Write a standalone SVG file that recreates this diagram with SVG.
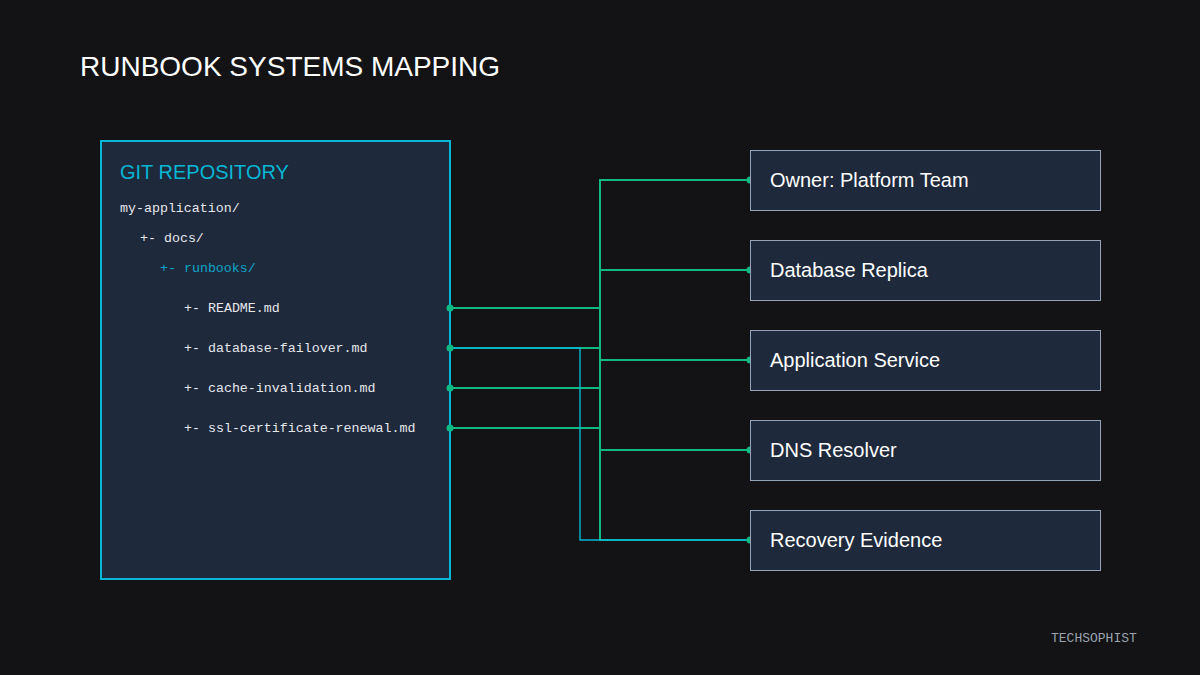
<svg xmlns="http://www.w3.org/2000/svg" width="1200" height="675" viewBox="0 0 1200 675">
  <style>
    .title { font-family: "Liberation Sans", Arial, sans-serif; font-size: 28px; fill: #ffffff; }
    .repo-title { font-family: "Liberation Sans", Arial, sans-serif; font-size: 20px; fill: #06b6d4; }
    .mono { font-family: "Liberation Mono", "Courier New", monospace; font-size: 13.3px; fill: #e5e7eb; }
    .mono-accent { fill: #0ea5c9; }
    .node-box { fill: #1e293b; stroke: #94a3b8; stroke-width: 1; }
    .node-label { font-family: "Liberation Sans", Arial, sans-serif; font-size: 20px; fill: #ffffff; }
    .conn { fill: none; stroke: #10b981; stroke-width: 2; }
    .conn-blue { fill: none; stroke: #06b6d4; stroke-width: 1.4; }
    .dot { fill: #10b981; }
    .brand { font-family: "Liberation Mono", "Courier New", monospace; font-size: 13px; fill: #9ca3af; }
  </style>
  <rect width="1200" height="675" fill="#131315"/>
  <text class="title" x="80" y="76">RUNBOOK SYSTEMS MAPPING</text>

  <g id="git-repository">
    <rect x="101" y="141" width="349" height="438" fill="#1e293b" stroke="#06b6d4" stroke-width="2"/>
    <text class="repo-title" x="120" y="179">GIT REPOSITORY</text>
    <text class="mono" x="120" y="212">my-application/</text>
    <text class="mono" x="140" y="242">+- docs/</text>
    <text class="mono mono-accent" x="160" y="272">+- runbooks/</text>
    <text class="mono" x="184" y="312">+- README.md</text>
    <text class="mono" x="184" y="352">+- database-failover.md</text>
    <text class="mono" x="184" y="392">+- cache-invalidation.md</text>
    <text class="mono" x="184" y="432">+- ssl-certificate-renewal.md</text>
  </g>

  <g id="connectors">
    <path class="conn" d="M450,308 H600 V180 H750"/>
    <path class="conn" d="M450,308 H600 V270 H750"/>
    <path class="conn" d="M450,348 H600 V270 H750"/>
    <path class="conn" d="M450,348 H600 V360 H750"/>
    <path class="conn" d="M450,388 H600 V360 H750"/>
    <path class="conn" d="M450,388 H600 V450 H750"/>
    <path class="conn" d="M450,428 H600 V540 H750"/>
    <path class="conn-blue" d="M450,348 H580 V540 H750"/>
    <circle class="dot" cx="450" cy="308" r="3.5"/>
    <circle class="dot" cx="450" cy="348" r="3.5"/>
    <circle class="dot" cx="450" cy="388" r="3.5"/>
    <circle class="dot" cx="450" cy="428" r="3.5"/>
    <circle class="dot" cx="750" cy="180" r="3.5"/>
    <circle class="dot" cx="750" cy="270" r="3.5"/>
    <circle class="dot" cx="750" cy="360" r="3.5"/>
    <circle class="dot" cx="750" cy="450" r="3.5"/>
    <circle class="dot" cx="750" cy="540" r="3.5"/>
  </g>

  <g id="node-owner">
    <rect class="node-box" x="750.5" y="150.5" width="350" height="60"/>
    <text class="node-label" x="770" y="187">Owner: Platform Team</text>
  </g>
  <g id="node-database-replica">
    <rect class="node-box" x="750.5" y="240.5" width="350" height="60"/>
    <text class="node-label" x="770" y="277">Database Replica</text>
  </g>
  <g id="node-application-service">
    <rect class="node-box" x="750.5" y="330.5" width="350" height="60"/>
    <text class="node-label" x="770" y="367">Application Service</text>
  </g>
  <g id="node-dns-resolver">
    <rect class="node-box" x="750.5" y="420.5" width="350" height="60"/>
    <text class="node-label" x="770" y="457">DNS Resolver</text>
  </g>
  <g id="node-recovery-evidence">
    <rect class="node-box" x="750.5" y="510.5" width="350" height="60"/>
    <text class="node-label" x="770" y="547">Recovery Evidence</text>
  </g>

  <text class="brand" x="1051" y="642">TECHSOPHIST</text>
</svg>
